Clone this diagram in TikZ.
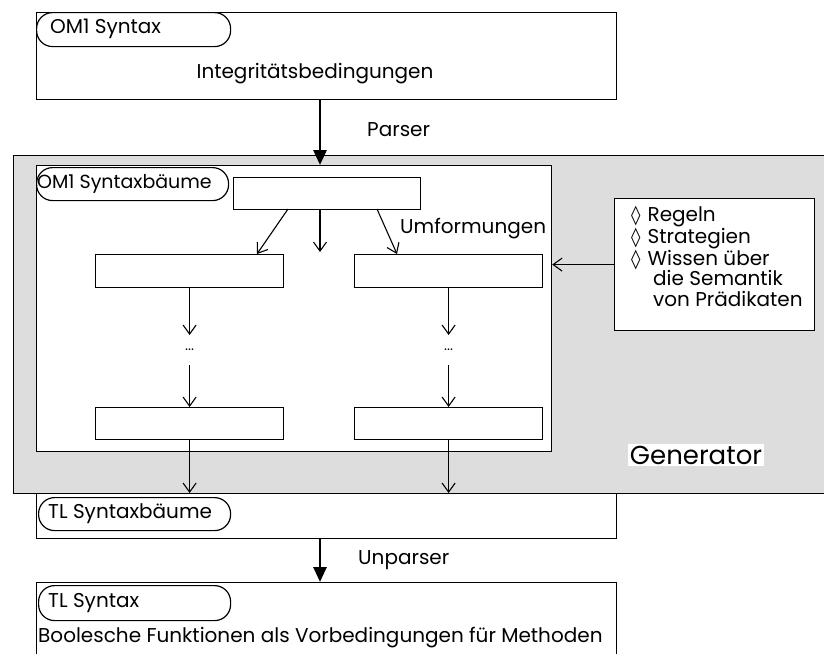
\documentclass[tikz,border=0pt]{standalone}
\usepackage{fontspec}
\setmainfont{Poppins}
\newfontfamily\symf{DejaVu Sans}
\usetikzlibrary{arrows.meta,positioning}
\definecolor{genbg}{RGB}{221,221,221}
\newcommand{\lozbullet}{{\symf\fontsize{19}{22}\selectfont◊}\hspace{7pt}}
\begin{document}
\begin{tikzpicture}[x=1pt,y=-1pt,
  every node/.style={font=\fontsize{20}{22}\selectfont},
  box/.style={draw,line width=1.2pt,fill=white,anchor=north west,inner sep=0pt},
  pill/.style={draw,line width=1.2pt,fill=white,rounded corners=16pt,anchor=north west,inner sep=0pt},
  flow/.style={line width=1.1pt,-{Straight Barb[length=9pt,width=13pt]}},
  bigflow/.style={line width=2.8pt,-{Triangle[length=15pt,width=13pt]}},
  lbl/.style={inner sep=0pt}
]
\useasboundingbox (0,0) rectangle (824,653);

% source syntax
\node[box,minimum width=580pt,minimum height=87pt] (om1) at (36,12) {};
\node[pill,minimum width=194pt,minimum height=34pt] (om1p) at (36,12) {};
\node[lbl,anchor=west] at (50,29) {OM1 Syntax};
\node[lbl] (ib) at (315,74) {Integritätsbedingungen};

% generator area
\node[draw,line width=1.2pt,fill=genbg,anchor=north west,inner sep=0pt,
      minimum width=812pt,minimum height=338pt] (gen) at (13,155) {};
\node[box,minimum width=515pt,minimum height=286pt] (trees) at (36,165) {};
\node[pill,minimum width=192pt,minimum height=33pt] (treesp) at (36,167) {};
\node[lbl,anchor=west,font=\fontsize{19}{22}\selectfont] at (37,184) {OM1 Syntaxbäume};

\node[box,minimum width=187pt,minimum height=32pt] (t0) at (233,177) {};
\node[box,minimum width=188pt,minimum height=33pt] (l1) at (95,254) {};
\node[box,minimum width=188pt,minimum height=33pt] (r1) at (354,254) {};
\node[box,minimum width=188pt,minimum height=32pt] (l2) at (95,407) {};
\node[box,minimum width=188pt,minimum height=32pt] (r2) at (354,407) {};
\node[lbl,font=\fontsize{14}{16}\selectfont] (ld) at (l1.south |- 0,350) {...};
\node[lbl,font=\fontsize{14}{16}\selectfont] (rd) at (r1.south |- 0,350) {...};
\node[lbl,anchor=west] (umf) at (400,229) {Umformungen};

% gaps around the ellipses
\coordinate (ldin) at (l1.south |- 0,335);
\coordinate (ldout) at (l1.south |- 0,365);
\coordinate (rdin) at (r1.south |- 0,335);
\coordinate (rdout) at (r1.south |- 0,365);

\coordinate (t0a) at (288,209);
\coordinate (t0b) at (320,209);
\coordinate (t0c) at (377,209);
\coordinate (mid) at (320,252);
\draw[flow] (t0a) -- (257,254);
\draw[flow] (t0b) -- (mid);
\draw[flow] (t0c) -- (397,254);

\draw[flow] (l1.south) -- (ldin);
\draw[flow] (ldout) -- (l2.north);
\draw[flow] (r1.south) -- (rdin);
\draw[flow] (rdout) -- (r2.north);

% knowledge box
\node[box,minimum width=200pt,minimum height=132pt] (know) at (614,198) {};
\node[lbl,anchor=north west,align=left,font=\fontsize{20}{20.5}\selectfont] (knowt) at (631,206)
  {\lozbullet Regeln\\
   \lozbullet Strategien\\
   \lozbullet Wissen über\\
   \hspace{22pt}die Semantik\\
   \hspace{22pt}von Prädikaten};
\draw[flow] (know.west) -- (trees.east |- know.west);

\node[fill=white,inner sep=2pt,font=\fontsize{26}{28}\selectfont] (genl) at (696,455) {Generator};

% target trees
\node[box,minimum width=580pt,minimum height=45pt] (tl) at (36,493) {};
\node[pill,minimum width=192pt,minimum height=33pt] (tlp) at (38,497) {};
\node[lbl,anchor=west] at (48,514) {TL Syntaxbäume};

\draw[flow] (l2.south) -- (l2.south |- tl.north);
\draw[flow] (r2.south) -- (r2.south |- tl.north);

% target syntax
\node[box,minimum width=580pt,minimum height=80pt] (tls) at (36,582) {};
\node[pill,minimum width=192pt,minimum height=35pt] (tlsp) at (38,585) {};
\node[lbl,anchor=west] at (48,603) {TL Syntax};
\node[lbl,anchor=west] (bf) at (38,638) {Boolesche Funktionen als Vorbedingungen für Methoden};

% parser / unparser
\draw[bigflow] (om1.south -| mid) -- (mid |- trees.north);
\node[lbl,anchor=west] at (367,130) {Parser};
\draw[bigflow] (tl.south -| mid) -- (mid |- tls.north);
\node[lbl,anchor=west] at (358,560) {Unparser};
\end{tikzpicture}
\end{document}
